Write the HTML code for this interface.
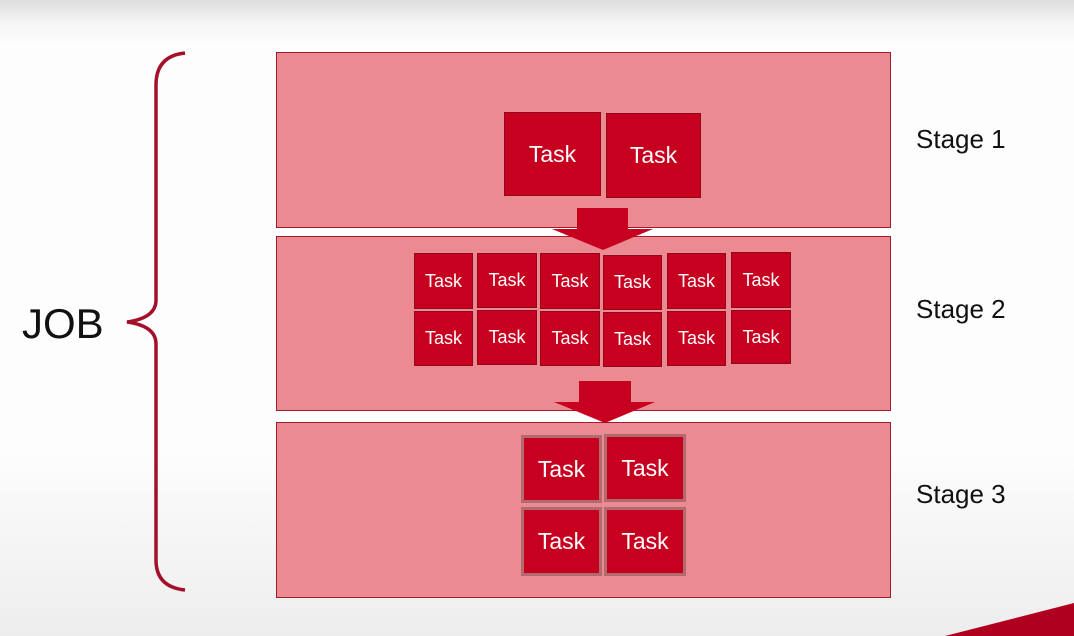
<!DOCTYPE html>
<html><head><meta charset="utf-8"><style>
html,body{margin:0;padding:0}
body{width:1074px;height:636px;position:relative;overflow:hidden;font-family:"Liberation Sans",sans-serif;
background:linear-gradient(180deg,#dedede 0px,#f6f6f6 25px,#fdfdfd 45px,#fdfdfd 450px,#ededed 636px);}
.stage{position:absolute;left:276px;width:613px;background:#ec8a92;border:1.5px solid #9e1b30;}
.t{position:absolute;background:#c8001f;border:1px solid #8e0a1c;color:#fff;display:flex;align-items:center;justify-content:center;box-sizing:border-box}
.big{font-size:23px}
.sm{font-size:18px}
.lbl{position:absolute;left:916px;font-size:26px;color:#111}
</style></head><body>
<div class="stage" style="top:52px;height:174px"></div>
<div class="stage" style="top:236px;height:173px"></div>
<div class="stage" style="top:422px;height:174px"></div>

<div class="t big" style="left:504px;top:112px;width:97px;height:84px">Task</div>
<div class="t big" style="left:606px;top:113px;width:95px;height:85px">Task</div>

<div class="t sm" style="left:414px;top:253px;width:59px;height:56px">Task</div>
<div class="t sm" style="left:477px;top:253px;width:60px;height:55px">Task</div>
<div class="t sm" style="left:540px;top:253px;width:60px;height:56px">Task</div>
<div class="t sm" style="left:603px;top:255px;width:59px;height:55px">Task</div>
<div class="t sm" style="left:667px;top:253px;width:59px;height:56px">Task</div>
<div class="t sm" style="left:731px;top:252px;width:60px;height:56px">Task</div>
<div class="t sm" style="left:414px;top:311px;width:59px;height:55px">Task</div>
<div class="t sm" style="left:477px;top:310px;width:60px;height:55px">Task</div>
<div class="t sm" style="left:540px;top:311px;width:60px;height:55px">Task</div>
<div class="t sm" style="left:603px;top:312px;width:59px;height:55px">Task</div>
<div class="t sm" style="left:667px;top:311px;width:59px;height:55px">Task</div>
<div class="t sm" style="left:731px;top:310px;width:60px;height:54px">Task</div>

<div class="t big" style="left:521px;top:435px;width:81px;height:68px;border:3px solid #b06a70">Task</div>
<div class="t big" style="left:604px;top:434px;width:82px;height:68px;border:3px solid #b06a70">Task</div>
<div class="t big" style="left:521px;top:507px;width:81px;height:69px;border:3px solid #b06a70">Task</div>
<div class="t big" style="left:604px;top:507px;width:82px;height:69px;border:3px solid #b06a70">Task</div>

<svg width="1074" height="636" style="position:absolute;left:0;top:0">
<polygon points="577,208 628,208 628,229 653,229 603,250 552,229 577,229" fill="#c8001f"/>
<polygon points="579,381 631,381 631,402 655,402 605,423 554,402 579,402" fill="#c8001f"/>
<path d="M185,53 Q156,56 156,85 L156,300 Q156,318 127,322 Q156,326 156,344 L156,560 Q156,587 185,590" fill="none" stroke="#a3102a" stroke-width="3.5"/>
<polygon points="945,636 1074,603 1074,636" fill="#b0001f"/>
</svg>

<div style="position:absolute;left:22px;top:300px;font-size:42px;color:#111">JOB</div>
<div class="lbl" style="top:124px">Stage 1</div>
<div class="lbl" style="top:294px">Stage 2</div>
<div class="lbl" style="top:479px">Stage 3</div>
</body></html>
